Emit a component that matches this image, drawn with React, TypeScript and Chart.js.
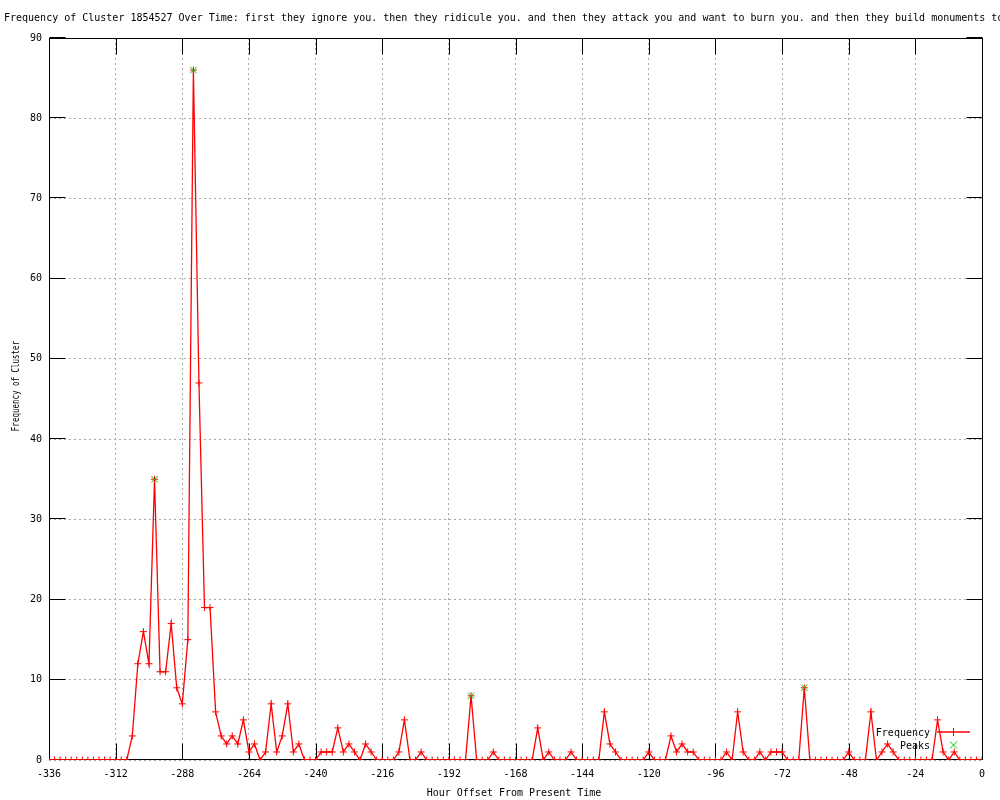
import React, { useEffect, useRef } from "react";
import { Chart, registerables } from "chart.js";

Chart.register(...registerables);

const TITLE =
  "Frequency of Cluster 1854527 Over Time: first they ignore you. then they ridicule you. and then they attack you and want to burn you. and then they build monuments to";
const X_TITLE = "Hour Offset From Present Time";
const Y_TITLE = "Frequency of Cluster";

const hours = [
  -336, -334, -332, -330, -328, -326, -324, -322, -320, -318, -316, -314, -312, -310, -308,
  -306, -304, -302, -300, -298, -296, -294, -292, -290, -288, -286, -284, -282, -280, -278,
  -276, -274, -272, -270, -268, -266, -264, -262, -260, -258, -256, -254, -252, -250, -248,
  -246, -244, -242, -240, -238, -236, -234, -232, -230, -228, -226, -224, -222, -220, -218,
  -216, -214, -212, -210, -208, -206, -204, -202, -200, -198, -196, -194, -192, -190, -188,
  -186, -184, -182, -180, -178, -176, -174, -172, -170, -168, -166, -164, -162, -160, -158,
  -156, -154, -152, -150, -148, -146, -144, -142, -140, -138, -136, -134, -132, -130, -128,
  -126, -124, -122, -120, -118, -116, -114, -112, -110, -108, -106, -104, -102, -100, -98,
  -96, -94, -92, -90, -88, -86, -84, -82, -80, -78, -76, -74, -72, -70, -68, -66, -64, -62,
  -60, -58, -56, -54, -52, -50, -48, -46, -44, -42, -40, -38, -36, -34, -32, -30, -28, -26,
  -24, -22, -20, -18, -16, -14, -12, -10, -8, -6, -4, -2, 0,
];

const frequency = [
  0, 0, 0, 0, 0, 0, 0, 0, 0, 0, 0, 0, 0, 0, 0,
  3, 12, 16, 12, 35, 11, 11, 17, 9, 7, 15, 86, 47, 19, 19,
  6, 3, 2, 3, 2, 5, 1, 2, 0, 1, 7, 1, 3, 7, 1, 2, 0, 0,
  0, 1, 1, 1, 4, 1, 2, 1, 0, 2, 1, 0,
  0, 0, 0, 1, 5, 0, 0, 1, 0, 0, 0, 0, 0, 0, 0, 0,
  8, 0, 0, 0, 1, 0, 0, 0, 0, 0, 0, 0,
  4, 0, 1, 0, 0, 0, 1, 0, 0, 0, 0, 0,
  6, 2, 1, 0, 0, 0, 0, 0, 1, 0, 0, 0,
  3, 1, 2, 1, 1, 0, 0, 0, 0, 0, 1, 0,
  6, 1, 0, 0, 1, 0, 1, 1, 1, 0, 0, 0,
  9, 0, 0, 0, 0, 0, 0, 0, 1, 0, 0, 0,
  6, 0, 1, 2, 1, 0, 0, 0, 0, 0, 0, 0,
  5, 1, 0, 1, 0, 0, 0, 0, 0,
];

const peakHours = [-298, -284, -184, -64];
const peakValues = [35, 86, 8, 9];

const X_MIN = -336;
const X_MAX = 0;
const X_STEP = 24;
const Y_MIN = 0;
const Y_MAX = 90;
const Y_STEP = 10;

const FONT = '10px "DejaVu Sans Mono", "Liberation Mono", monospace';
const RED = "#ff0000";
const GREEN = "#00c000";

const decorPlugin = {
  id: "decor",
  beforeDatasetsDraw(chart: any) {
    const ctx = chart.ctx;
    const a = chart.chartArea;
    const xs = chart.scales.x;
    const ys = chart.scales.y;
    const L = Math.round(a.left) + 0.5;
    const R = Math.round(a.right) + 0.5;
    const T = Math.round(a.top) + 0.5;
    const B = Math.round(a.bottom) - 0.5;
    ctx.save();
    ctx.strokeStyle = "#000";
    ctx.lineWidth = 1;
    ctx.setLineDash([]);
    ctx.beginPath();
    const tl = 16;
    xs.ticks.forEach((t: any) => {
      const px = Math.round(xs.getPixelForValue(t.value)) + 0.5;
      ctx.moveTo(px, B);
      ctx.lineTo(px, B - tl);
      ctx.moveTo(px, T);
      ctx.lineTo(px, T + tl);
    });
    ys.ticks.forEach((t: any) => {
      const py = Math.round(ys.getPixelForValue(t.value)) - 0.5;
      ctx.moveTo(L, py);
      ctx.lineTo(L + tl, py);
      ctx.moveTo(R, py);
      ctx.lineTo(R - tl, py);
    });
    ctx.stroke();
    ctx.strokeRect(L, T, R - L, B - T);
    ctx.restore();
  },
  afterDraw(chart: any) {
    const ctx = chart.ctx;
    ctx.save();
    ctx.fillStyle = "#000";
    ctx.font = FONT;
    ctx.textBaseline = "middle";
    ctx.textAlign = "left";
    ctx.fillText(TITLE, 4, 18);
    ctx.textAlign = "center";
    ctx.fillText(X_TITLE, 514, 793);
    ctx.save();
    ctx.translate(16, 386);
    ctx.rotate(-Math.PI / 2);
    ctx.scale(0.75, 1);
    ctx.fillText(Y_TITLE, 0, 0);
    ctx.restore();

    // legend
    ctx.textAlign = "right";
    ctx.fillText("Frequency", 930, 733);
    ctx.fillText("Peaks", 930, 746);
    ctx.strokeStyle = RED;
    ctx.lineWidth = 1.5;
    ctx.beginPath();
    ctx.moveTo(937, 732);
    ctx.lineTo(970, 732);
    ctx.stroke();
    ctx.lineWidth = 1;
    ctx.beginPath();
    ctx.moveTo(953.5, 728);
    ctx.lineTo(953.5, 736);
    ctx.stroke();
    ctx.strokeStyle = GREEN;
    ctx.beginPath();
    ctx.moveTo(950, 741.5);
    ctx.lineTo(957, 748.5);
    ctx.moveTo(957, 741.5);
    ctx.lineTo(950, 748.5);
    ctx.stroke();
    ctx.restore();
  },
};

export default function App() {
  const ref = useRef<HTMLCanvasElement | null>(null);

  useEffect(() => {
    if (!ref.current) return;
    const freqData = hours.map((h, i) => ({ x: h, y: frequency[i] }));
    const peakData = peakHours.map((h, i) => ({ x: h, y: peakValues[i] }));
    const chart = new Chart(ref.current, {
      type: "line",
      data: {
        datasets: [
          {
            label: "Frequency",
            data: freqData,
            borderColor: RED,
            backgroundColor: RED,
            borderWidth: 1.3,
            pointStyle: "cross",
            pointRadius: 3.5,
            pointBorderColor: RED,
            pointBorderWidth: 1,
            tension: 0,
            order: 1,
          },
          {
            label: "Peaks",
            data: peakData,
            showLine: false,
            borderColor: GREEN,
            backgroundColor: GREEN,
            pointStyle: "crossRot",
            pointRadius: 4.5,
            pointBorderColor: GREEN,
            pointBorderWidth: 1,
            order: 0,
          },
        ],
      },
      options: {
        animation: false,
        responsive: false,
        devicePixelRatio: 1,
        layout: { padding: { top: 38, right: 18, left: 0, bottom: 0 } },
        plugins: {
          legend: { display: false },
          tooltip: { enabled: false },
          title: { display: false },
        },
        scales: {
          x: {
            type: "linear",
            min: X_MIN,
            max: X_MAX,
            afterFit: (s: any) => {
              s.height = 40;
            },
            ticks: {
              stepSize: X_STEP,
              color: "#000",
              font: { family: '"DejaVu Sans Mono", monospace', size: 10 },
              padding: 8,
              maxRotation: 0,
              autoSkip: false,
            },
            grid: {
              color: "#a8a8a8",
              drawTicks: false,
              lineWidth: 1,
            },
            border: { display: false, dash: [2, 3] },
          },
          y: {
            type: "linear",
            min: Y_MIN,
            max: Y_MAX,
            afterFit: (s: any) => {
              s.width = 49;
            },
            ticks: {
              stepSize: Y_STEP,
              color: "#000",
              font: { family: '"DejaVu Sans Mono", monospace', size: 10 },
              padding: 7,
            },
            grid: {
              color: "#a8a8a8",
              drawTicks: false,
              lineWidth: 1,
            },
            border: { display: false, dash: [2, 3] },
          },
        },
      },
      plugins: [decorPlugin],
    });
    return () => chart.destroy();
  }, []);

  return (
    <div style={{ position: "fixed", left: 0, top: 0, width: 1000, height: 800, background: "#fff" }}>
      <canvas ref={ref} width={1000} height={800} style={{ width: 1000, height: 800, display: "block" }} />
    </div>
  );
}
